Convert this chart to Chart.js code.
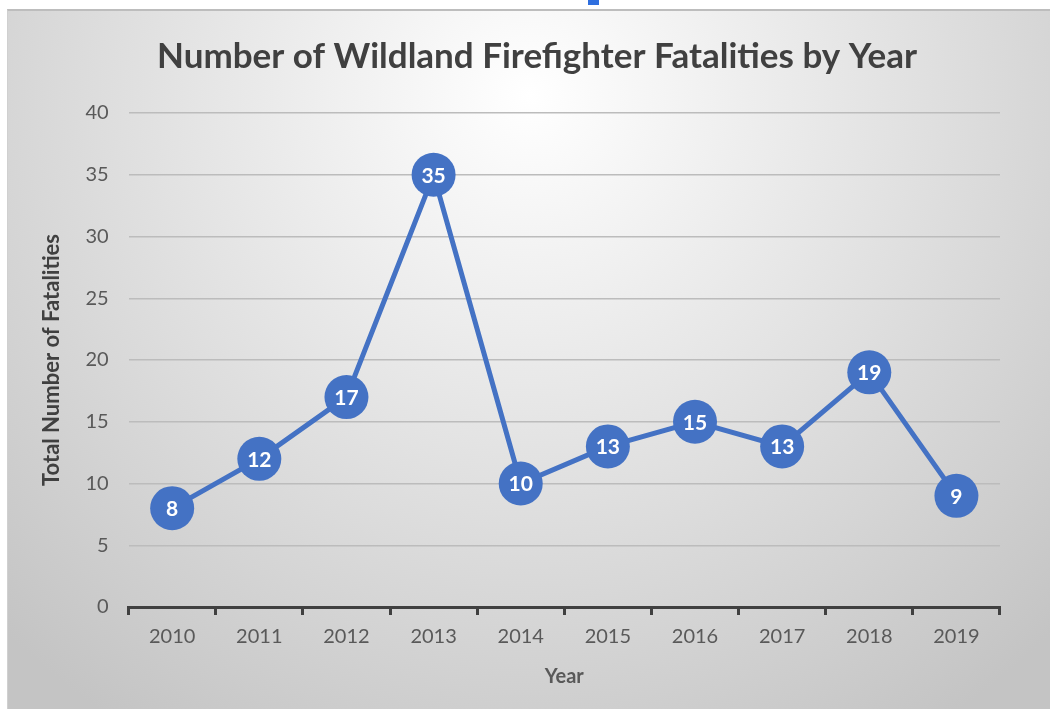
<!DOCTYPE html>
<html>
<head>
<meta charset="utf-8">
<script src="https://cdn.jsdelivr.net/npm/chart.js"></script>
<style>
  html, body { margin: 0; padding: 0; background: #fff; }
  #wrap { position: absolute; left: 7px; top: 9px; width: 1043px; height: 700px; border-top: 2px solid #bdbdbd; border-left: 1px solid #d0d0d0; box-sizing: border-box; }
  #mark { position: absolute; left: 588px; top: 0; width: 11px; height: 5px; background: #2f6fdf; }
</style>
</head>
<body>
<div id="mark"></div>
<div id="wrap"><canvas id="myChart"></canvas></div>
<script>
// categories along the x-axis
var years = ['2010','2011','2012','2013','2014','2015','2016','2017','2018','2019'];
// fatalities per year
var fatalities = [8, 12, 17, 35, 10, 13, 15, 13, 19, 9];
// y-axis range
var yMin = 0, yMax = 40, yStep = 5;
var chartTitle = 'Number of Wildland Firefighter Fatalities by Year';

var bgPlugin = {
  id: 'bg',
  beforeDraw: function(chart){
    var c = chart.ctx, w = chart.width, h = chart.height;
    var g = c.createRadialGradient(w*0.5, h*0.12, 0, w*0.5, h*0.12, w*0.72);
    g.addColorStop(0, '#ffffff');
    g.addColorStop(1, '#c4c4c4');
    c.save();
    c.fillStyle = g;
    c.fillRect(0, 0, w, h);
    // title, centred a little right of the canvas middle like the original
    c.fillStyle = '#404040';
    c.font = 'bold 35px Lato';
    c.textAlign = 'center';
    c.textBaseline = 'middle';
    c.fillText(chartTitle, 529, 46);
    c.restore();
  }
};

var labelPlugin = {
  id: 'pointLabels',
  afterDatasetsDraw: function(chart){
    var c = chart.ctx;
    var meta = chart.getDatasetMeta(0);
    c.save();
    c.fillStyle = '#ffffff';
    c.font = 'bold 21px Lato';
    c.textAlign = 'center';
    c.textBaseline = 'middle';
    meta.data.forEach(function(pt, i){
      c.fillText(String(fatalities[i]), pt.x, pt.y + 1);
    });
    c.restore();
  }
};

var ctx = document.getElementById('myChart');
var myChart = new Chart(ctx, {
  type: 'line',
  data: {
    labels: years,
    datasets: [{
      data: fatalities,
      borderColor: '#4472c4',
      backgroundColor: '#4472c4',
      borderWidth: 5,
      pointRadius: 22,
      pointHoverRadius: 22,
      pointBorderWidth: 0,
      fill: false,
      tension: 0
    }]
  },
  options: {
    responsive: true,
    maintainAspectRatio: false,
    animation: false,
    layout: { padding: { left: 31, right: 50, top: 102, bottom: 16 } },
    plugins: {
      legend: { display: false },
      tooltip: { enabled: false },
      title: { display: false }
    },
    scales: {
      x: {
        offset: true,
        grid: {
          offset: true,
          drawOnChartArea: false,
          drawTicks: true,
          tickLength: 8,
          tickColor: '#404040',
          tickWidth: 3
        },
        border: { display: true, color: '#404040', width: 3 },
        ticks: { color: '#595959', font: { family: 'Lato', size: 20 }, padding: 10 },
        title: {
          display: true, text: 'Year', color: '#595959',
          font: { family: 'Lato', size: 20, weight: 'bold' }, padding: { top: 6 }
        }
      },
      y: {
        min: yMin, max: yMax,
        ticks: { stepSize: yStep, color: '#595959', font: { family: 'Lato', size: 20 }, padding: 20 },
        grid: { color: '#bcbcbc', lineWidth: 1.5, drawTicks: false },
        border: { display: false },
        title: {
          display: true, text: 'Total Number of Fatalities', color: '#404040',
          font: { family: 'Lato', size: 22, weight: 'bold' }, padding: { top: 0, bottom: 0 }
        }
      }
    }
  },
  plugins: [bgPlugin, labelPlugin]
});
</script>
</body>
</html>
